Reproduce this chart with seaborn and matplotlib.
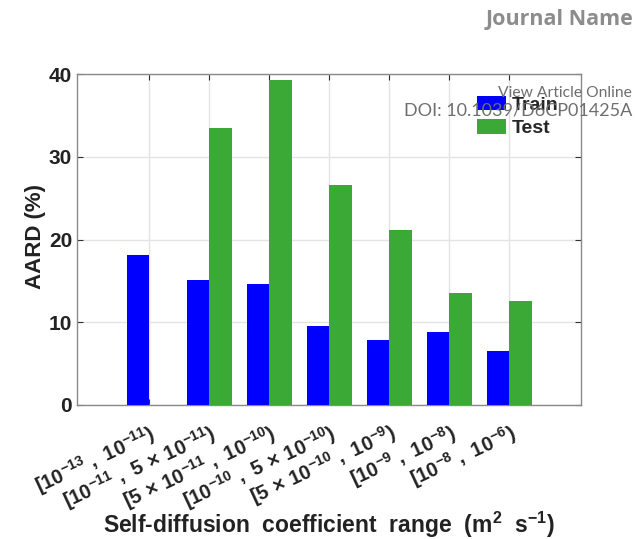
import numpy as np
import pandas as pd
import matplotlib
matplotlib.use("Agg")
import matplotlib.pyplot as plt
from matplotlib.patches import Patch
import seaborn as sns

# Self-diffusion coefficient ranges (m^2 s^-1)
ranges = [
    r"$\mathbf{[10^{-13}\ ,\ 10^{-11})}$",
    r"$\mathbf{[10^{-11}\ ,\ 5\,\times\,10^{-11})}$",
    r"$\mathbf{[5\,\times\,10^{-11}\ ,\ 10^{-10})}$",
    r"$\mathbf{[10^{-10}\ ,\ 5\,\times\,10^{-10})}$",
    r"$\mathbf{[5\,\times\,10^{-10}\ ,\ 10^{-9})}$",
    r"$\mathbf{[10^{-9}\ ,\ 10^{-8})}$",
    r"$\mathbf{[10^{-8}\ ,\ 10^{-6})}$",
]
# AARD (%) per range
train_aard = [18.1, 15.1, 14.6, 9.6, 7.8, 8.8, 6.5]
test_aard = [np.nan, 33.5, 39.3, 26.6, 21.1, 13.5, 12.6]
sets = ["Train", "Test"]
colors = ["#0000ff", "#3ba935"]
y_ticks = [0, 10, 20, 30, 40]

sns.set_theme(style="white")
plt.rcParams["font.family"] = ["Liberation Sans", "DejaVu Sans"]
plt.rcParams["font.weight"] = "bold"
plt.rcParams["mathtext.fontset"] = "custom"
plt.rcParams["mathtext.rm"] = "Liberation Sans:bold"
plt.rcParams["mathtext.bf"] = "Liberation Sans:bold"
plt.rcParams["mathtext.it"] = "Liberation Sans:bold"

df = pd.DataFrame({
    "range": ranges * 2,
    "set": [sets[0]] * len(ranges) + [sets[1]] * len(ranges),
    "aard": train_aard + test_aard,
})

fig = plt.figure(figsize=(6.35, 5.39), dpi=100)
ax = fig.add_axes([77 / 635, 1 - 405 / 539, 504 / 635, 331 / 539])

sns.barplot(data=df, x="range", y="aard", hue="set", order=ranges,
            hue_order=sets, palette=colors, width=0.75, saturation=1,
            errorbar=None, legend=False, ax=ax, zorder=3, linewidth=0)

ax.set_xlim(-1.2, len(ranges) - 1 + 1.2)
ax.set_ylim(0, 40)
ax.set_yticks(y_ticks)
ax.set_yticklabels([str(t) for t in y_ticks], fontsize=15, fontweight="bold")
ax.set_xticks(range(len(ranges)))
ax.set_xticklabels(ranges, rotation=25, ha="right", rotation_mode="anchor",
                   fontsize=14.5)
ax.tick_params(axis="x", pad=11)

ax.grid(True, color="#e3e3e3", linewidth=1.0, zorder=0)
ax.set_axisbelow(True)
for sp in ax.spines.values():
    sp.set_visible(True)
    sp.set_color("#8a8a8a")
    sp.set_linewidth(1.0)
ax.tick_params(direction="in", length=4, width=0.8, color="#333333",
               top=True, right=True, bottom=True, left=True,
               labelcolor="#222222")

ax.set_ylabel("AARD (%)", fontsize=16, fontweight="bold", color="#222222")
ax.yaxis.set_label_coords(-0.062, 0.51)
ax.set_xlabel("Self-diffusion  coefficient  range  (m$^{\\mathbf{2}}$  s$^{\\mathbf{-1}}$)",
              fontsize=16.5, fontweight="bold", color="#222222")
ax.xaxis.label.set_va("center")
ax.xaxis.set_label_coords(0.5, -0.3625)

handles = [Patch(facecolor=c, edgecolor="none", label=s) for s, c in zip(sets, colors)]
leg = ax.legend(handles=handles, loc="upper left", bbox_to_anchor=(0.793, 0.935),
                frameon=False, prop={"weight": "bold", "size": 14},
                handlelength=1.5, handleheight=0.77, handletextpad=0.3,
                labelspacing=0.29, borderaxespad=0, borderpad=0)

fig.text(633 / 635, 1 - 20 / 539, "Journal Name", ha="right", va="center",
         fontsize=15.5, fontweight="bold", color="#8c8c8c", family="Open Sans")
fig.text(632 / 635, 1 - 93 / 539, "View Article Online", ha="right", va="center",
         fontsize=11.25, fontweight="normal", color="#6e6e6e", family="Lato")
fig.text(632 / 635, 1 - 110 / 539, "DOI: 10.1039/D6CP01425A", ha="right",
         va="center", fontsize=13, fontweight="normal", color="#6e6e6e",
         family="Lato")

fig.savefig("out.png", dpi=100)
